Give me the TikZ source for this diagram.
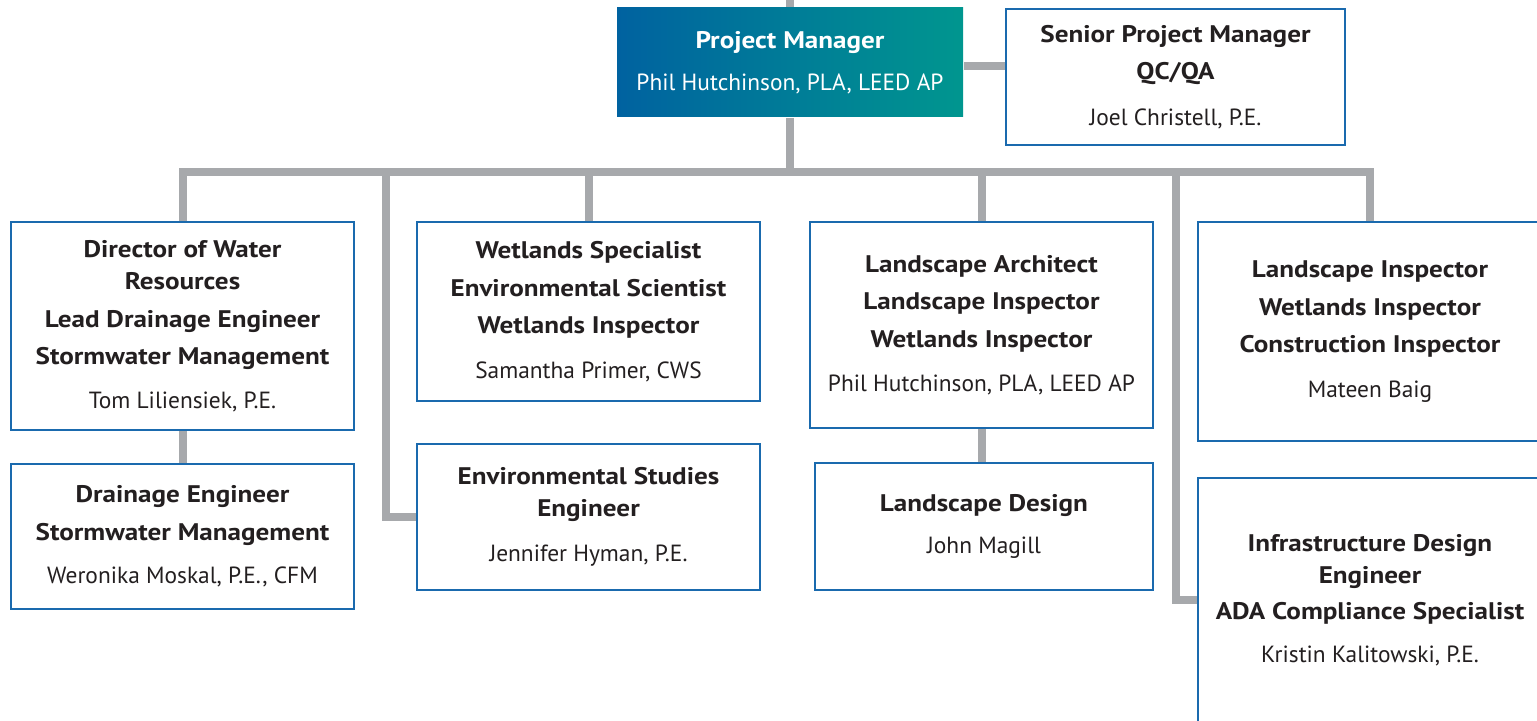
\documentclass[tikz,border=0pt]{standalone}
\usepackage{fontspec}
\setmainfont{PT Sans}[BoldFeatures={FakeStretch=1.13}]
\usepackage{xcolor}
\usetikzlibrary{backgrounds}
\definecolor{linegray}{HTML}{A7A9AC}
\definecolor{boxblue}{HTML}{1A6AAE}
\definecolor{pmleft}{HTML}{0062A0}
\definecolor{pmright}{HTML}{00968F}
\definecolor{textdark}{HTML}{231F20}
% 职位名称（粗体）
\newcommand{\role}[1]{{\fontsize{12}{18.75}\selectfont\bfseries #1}}

\begin{document}
\begin{tikzpicture}[x=0.5pt,y=-0.5pt,
    rolebox/.style={draw=boxblue, line width=1.2pt, fill=white, align=center,
      text=textdark, inner sep=0pt, font=\fontsize{11.7}{18.75}\selectfont},
    boxsize/.style 2 args={minimum width=#1*0.5pt, minimum height=#2*0.5pt},
    link/.style={draw=linegray, line width=4pt}]
        % 画布大小
        \useasboundingbox (0,0) rectangle (1537,721);

        % 项目经理
        \node[rolebox, draw=none, left color=pmleft, right color=pmright, text=white,
              boxsize={346}{109}] (pm) at (790,62.5)
              {\role{Project Manager}\\[2.25pt]Phil Hutchinson, PLA, LEED AP};
        \node[rolebox, boxsize={339}{136}] (spm) at (1175.5,77)
              {\role{Senior Project Manager}\\\role{QC/QA}\\[4pt]Joel Christell, P.E.};

        % 第一层
        \node[rolebox, boxsize={343}{208}] (dir) at (182.5,326)
              {\role{Director of Water}\\[-2.75pt]\role{Resources}\\
               \role{Lead Drainage Engineer}\\\role{Stormwater Management}\\[3pt]
               Tom Liliensiek, P.E.};
        \node[rolebox, boxsize={343}{179}] (wet) at (588.5,311.5)
              {\role{Wetlands Specialist}\\\role{Environmental Scientist}\\
               \role{Wetlands Inspector}\\[3.5pt]Samantha Primer, CWS};
        \node[rolebox, boxsize={343}{206}] (larch) at (981.5,325)
              {\role{Landscape Architect}\\\role{Landscape Inspector}\\
               \role{Wetlands Inspector}\\[3.5pt]Phil Hutchinson, PLA, LEED AP};
        \node[rolebox, boxsize={344}{219}] (insp) at (1370,331.5)
              {\role{Landscape Inspector}\\\role{Wetlands Inspector}\\
               \role{Construction Inspector}\\[3.5pt]Mateen Baig};

        % 第二层
        \node[rolebox, boxsize={343}{145}] (drain) at (182.5,536.5)
              {\role{Drainage Engineer}\\\role{Stormwater Management}\\[3pt]
               Weronika Moskal, P.E., CFM};
        \node[rolebox, boxsize={343}{146}] (env) at (588.5,517)
              {\role{Environmental Studies}\\[-2.75pt]\role{Engineer}\\[3.5pt]
               Jennifer Hyman, P.E.};
        \node[rolebox, boxsize={338}{127}] (ldes) at (984,526.5)
              {\role{Landscape Design}\\[2.25pt]John Magill};
        \node[rolebox, boxsize={344}{244}] (infra) at (1370,600)
              {\role{Infrastructure Design}\\[-2.75pt]\role{Engineer}\\[-0.75pt]
               \role{ADA Compliance Specialist}\\[3pt]Kristin Kalitowski, P.E.};

        % 连线的辅助点
        \coordinate (top) at (790,0);
        \coordinate (bus) at (790,172);
        \coordinate (b2) at (386,172);
        \coordinate (b5) at (1176,172);

        % 连线
        \begin{scope}[on background layer]
        \draw[link] (top) -- (pm.north);
        \draw[link] (pm.south) -- (bus);
        \draw[link] ([yshift=-2pt]pm.east) -- ([yshift=-2pt]pm.east -| spm.west);
        \draw[link] (dir.north) -- (dir.north |- bus) -- (insp.north |- bus) -- (insp.north);
        \draw[link] (wet.north) -- (wet.north |- bus);
        \draw[link] (larch.north) -- (larch.north |- bus);
        \draw[link] (b2) |- (env.west);
        \draw[link] (b5) |- (infra.west);
        \draw[link] (dir.south) -- (drain.north);
        \draw[link] (larch.south) -- (larch.south |- ldes.north);
        \end{scope}
    \end{tikzpicture}
\end{document}
